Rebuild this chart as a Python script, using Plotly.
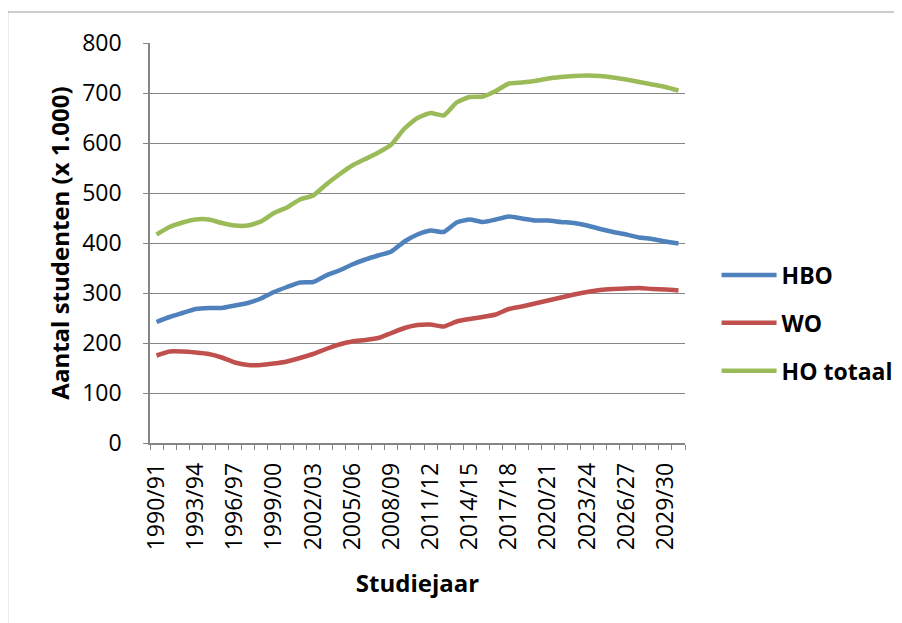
import plotly.graph_objects as go

years = [f"{y}/{str(y + 1)[-2:]}" for y in range(1990, 2031)]

hbo = [242, 252, 260, 268, 270, 270, 275, 280, 289, 302, 312, 321, 322, 335, 345, 357, 367, 375,
       383, 403, 417, 425, 422, 441, 447, 442, 447, 453, 449, 445, 445, 442, 440, 435, 428, 422,
       417, 411, 408, 403, 399]
wo = [175, 183, 183, 181, 178, 171, 161, 156, 156, 159, 163, 170, 178, 188, 197, 203, 206, 210,
      220, 230, 236, 237, 233, 243, 248, 252, 257, 268, 273, 279, 285, 291, 297, 302, 306, 308,
      309, 310, 308, 307, 305]
ho = [417, 432, 441, 447, 447, 440, 435, 435, 443, 460, 471, 487, 495, 517, 537, 555, 568, 581,
      597, 629, 650, 660, 655, 681, 692, 693, 704, 719, 721, 724, 729, 732, 734, 735, 734, 731,
      727, 722, 717, 712, 705]

series = [("HBO", hbo, "#4F81BD"), ("WO", wo, "#C0504D"), ("HO totaal", ho, "#9BBB59")]
tick_text = [y if i % 3 == 0 else "" for i, y in enumerate(years)]
y_ticks = list(range(0, 801, 100))

FONT = "Open Sans"
BORDER = dict(color="#9a9a9a", width=1)
fig = go.Figure()
for name, vals, col in series:
    fig.add_trace(go.Scatter(
        x=years, y=vals, name=name, mode="lines", legendgroup=name,
        line=dict(color=col, width=4.5, shape="spline", smoothing=0.5),
    ))

fig.update_layout(
    width=902, height=623,
    margin=dict(l=142, r=218, t=35, b=188),
    paper_bgcolor="white", plot_bgcolor="white",
    font=dict(family=FONT, size=23, color="black"),
    showlegend=True,
    legend=dict(x=1.059, xanchor="left", y=0.3, yanchor="middle",
                font=dict(family=FONT, size=23, color="black", weight="bold"),
                tracegroupgap=15, itemwidth=55),
    xaxis=dict(
        type="category", range=[-0.5, len(years) - 0.5], automargin=False,
        tickmode="array", tickvals=years, ticktext=tick_text,
        tickson="boundaries", ticks="outside", ticklen=5, tickcolor="#868686",
        tickangle=-90, showgrid=False, ticklabelstandoff=9,
        showline=True, linecolor="#868686", linewidth=1.5,
        tickfont=dict(family=FONT, size=23, color="black"),
        title=dict(text="Studiejaar", font=dict(family=FONT, size=24, color="black", weight="bold"),
                   standoff=26),
    ),
    yaxis=dict(
        range=[0, 800], tickvals=y_ticks, automargin=False,
        ticks="outside", ticklen=5, tickcolor="#868686",
        showgrid=True, gridcolor="#868686", gridwidth=1.2,
        showline=True, linecolor="#868686", linewidth=1.5, zeroline=False,
        tickfont=dict(family=FONT, size=23, color="black"),
        ticklabelstandoff=17,
        title=dict(text="Aantal studenten (x 1.000)",
                   font=dict(family=FONT, size=24, color="black", weight="bold"), standoff=6),
    ),
    shapes=[
        dict(type="line", xref="paper", yref="paper", x0=-0.266, x1=1.6, y0=1.0775, y1=1.0775,
             line=BORDER, layer="below"),
        dict(type="line", xref="paper", yref="paper", x0=-0.266, x1=-0.266, y0=-0.6, y1=1.0775,
             line=BORDER, layer="below"),
    ],
)

fig.write_html("out.html", config={"displayModeBar": False})
